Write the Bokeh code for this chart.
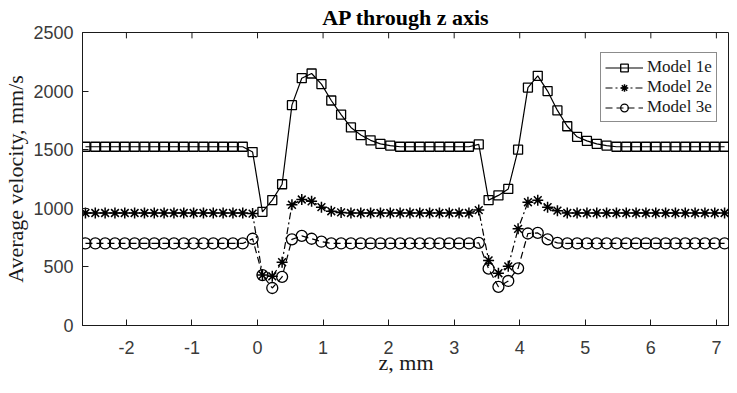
from bokeh.plotting import figure
from bokeh.models import Range1d, FixedTicker, Legend, LegendItem
from bokeh.embed import file_html
from bokeh.resources import INLINE

# ---- data ----
z_mm = [-2.625, -2.475, -2.325, -2.175, -2.025, -1.875, -1.725, -1.575, -1.425, -1.275,
        -1.125, -0.975, -0.825, -0.675, -0.525, -0.375, -0.225, -0.075, 0.075, 0.225,
        0.375, 0.525, 0.675, 0.825, 0.975, 1.125, 1.275, 1.425, 1.575, 1.725,
        1.875, 2.025, 2.175, 2.325, 2.475, 2.625, 2.775, 2.925, 3.075, 3.225,
        3.375, 3.525, 3.675, 3.825, 3.975, 4.125, 4.275, 4.425, 4.575, 4.725,
        4.875, 5.025, 5.175, 5.325, 5.475, 5.625, 5.775, 5.925, 6.075, 6.225,
        6.375, 6.525, 6.675, 6.825, 6.975, 7.125]

model_1e = [1525, 1525, 1525, 1525, 1525, 1525, 1525, 1525, 1525, 1525,
            1525, 1525, 1525, 1525, 1525, 1525, 1525, 1480, 970, 1070,
            1205, 1880, 2110, 2150, 2060, 1920, 1800, 1690, 1625, 1580,
            1550, 1535, 1525, 1525, 1525, 1525, 1525, 1525, 1525, 1525,
            1545, 1070, 1110, 1165, 1500, 2030, 2130, 2000, 1835, 1700,
            1610, 1575, 1550, 1535, 1525, 1525, 1525, 1525, 1525, 1525,
            1525, 1525, 1525, 1525, 1525, 1525]

model_2e = [960, 960, 960, 960, 960, 960, 960, 960, 960, 960,
            960, 960, 960, 960, 960, 960, 960, 955, 430, 420,
            540, 1030, 1075, 1060, 1010, 975, 965, 960, 960, 960,
            960, 960, 960, 960, 960, 960, 960, 960, 960, 960,
            985, 555, 446, 505, 825, 1052, 1069, 1010, 980, 960,
            960, 960, 960, 960, 960, 960, 960, 960, 960, 960,
            960, 960, 960, 960, 960, 960]

model_3e = [700, 700, 700, 700, 700, 700, 700, 700, 700, 700,
            700, 700, 700, 700, 700, 700, 700, 740, 430, 320,
            415, 735, 765, 740, 715, 700, 700, 700, 700, 700,
            700, 700, 700, 700, 700, 700, 700, 700, 700, 700,
            705, 485, 330, 380, 488, 785, 790, 735, 705, 700,
            700, 700, 700, 700, 700, 700, 700, 700, 700, 700,
            700, 700, 700, 700, 700, 700]

x_ticks = [-2, -1, 0, 1, 2, 3, 4, 5, 6, 7]
y_ticks = [0, 500, 1000, 1500, 2000, 2500]
series_names = ["Model 1e", "Model 2e", "Model 3e"]
x_title = "z, mm"
y_title = "Average velocity, mm/s"

INK = "#1a1a1a"
TICK_TXT = "#3a3a3a"
TICK_LEN = 50  # inward tick length on the top border, in y units (~6 px)
X_START, X_END = -2.67, 7.2

p = figure(width=729, height=377, output_backend="svg", toolbar_location=None,
           x_range=Range1d(X_START, X_END), y_range=Range1d(y_ticks[0], y_ticks[-1]),
           title="AP through z axis",
           min_border_left=0, min_border_right=0, min_border_top=0, min_border_bottom=0)

p.title.text_font = "Liberation Serif"
p.title.text_font_size = "22px"
p.title.text_font_style = "bold"
p.title.text_color = "black"
p.title.align = "center"
p.title.standoff = 5
p.title.offset = 0

p.outline_line_color = INK
p.outline_line_width = 1
p.outline_line_alpha = 1
p.xgrid.visible = False
p.ygrid.visible = False
p.background_fill_color = "white"
p.border_fill_color = "white"

def style_axis(ax, ticks):
    ax.ticker = FixedTicker(ticks=ticks)
    ax.major_tick_in = 6
    ax.major_tick_out = 0
    ax.minor_tick_line_color = None
    ax.axis_line_color = INK
    ax.axis_line_width = 1
    ax.major_tick_line_color = INK
    ax.major_label_text_font = "Liberation Sans"
    ax.major_label_text_font_size = "18px"
    ax.major_label_text_color = TICK_TXT
    ax.axis_label_text_font = "Liberation Serif"
    ax.axis_label_text_font_size = "22px"
    ax.axis_label_text_font_style = "normal"
    ax.axis_label_text_color = INK

xa = p.xaxis[0]
style_axis(xa, x_ticks)
xa.axis_label = x_title
xa.major_label_standoff = 15
xa.axis_label_standoff = -7
xa.major_label_overrides = {t: str(t) for t in x_ticks}

ya = p.yaxis[0]
style_axis(ya, y_ticks)
ya.axis_label = y_title
ya.major_label_standoff = 9
ya.axis_label_standoff = 2

# inward tick marks along the top border (MATLAB box style)
p.segment(x0=x_ticks, y0=[y_ticks[-1]] * len(x_ticks),
          x1=x_ticks, y1=[y_ticks[-1] - TICK_LEN] * len(x_ticks),
          line_color=INK, line_width=1)

l1 = p.line(z_mm, model_1e, line_color="black", line_width=1.2)
s1 = p.scatter(z_mm, model_1e, marker="square", size=9, fill_color=None,
               line_color="black", line_width=1.3)
l2 = p.line(z_mm, model_2e, line_color="black", line_width=1.2, line_dash="7 3 2 3")
s2 = p.scatter(z_mm, model_2e, marker="asterisk", size=11,
               line_color="black", line_width=1.5)
l3 = p.line(z_mm, model_3e, line_color="black", line_width=1.2, line_dash="7 4")
s3 = p.scatter(z_mm, model_3e, marker="circle", size=11, fill_color=None,
               line_color="black", line_width=1.3)

legend = Legend(items=[LegendItem(label=series_names[0], renderers=[l1, s1]),
                       LegendItem(label=series_names[1], renderers=[l2, s2]),
                       LegendItem(label=series_names[2], renderers=[l3, s3])],
                location=(518, 203))
legend.padding = 4
legend.spacing = 0
legend.glyph_width = 38
legend.glyph_height = 19
legend.label_height = 19
legend.label_standoff = 4
legend.label_text_font = "Liberation Serif"
legend.label_text_font_size = "17px"
legend.label_text_color = INK
legend.border_line_color = INK
legend.border_line_width = 1
legend.background_fill_color = "white"
legend.background_fill_alpha = 1
p.add_layout(legend)

open("out.html", "w").write(file_html(p, INLINE))
